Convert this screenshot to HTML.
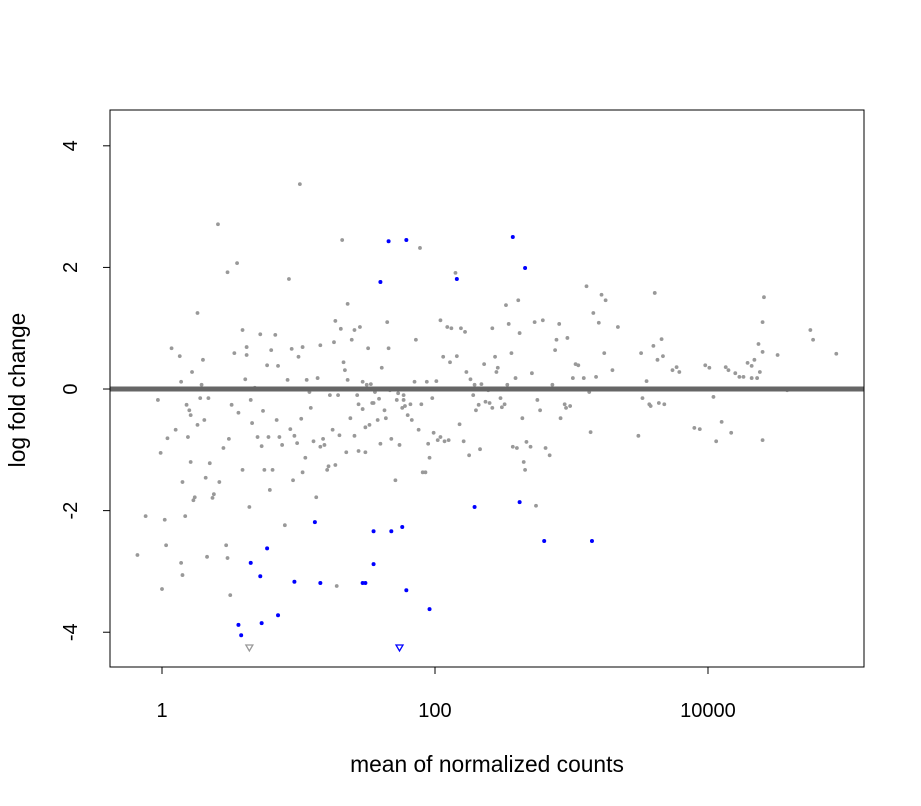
<!DOCTYPE html>
<html><head><meta charset="utf-8"><style>
html,body{margin:0;padding:0;background:#fff;}
svg{display:block;font-family:"Liberation Sans",sans-serif;}
</style></head><body>
<svg id="chart" width="921" height="806" viewBox="0 0 921 806" xmlns="http://www.w3.org/2000/svg"></svg>
<script>
// Data (x stored as log10 of mean normalized counts)
const grayLogMean = [-0.18,-0.12,-0.03,-0.01,0.00,0.02,0.03,0.04,0.07,0.10,0.13,0.14,0.14,0.15,0.15,0.17,0.18,0.19,0.20,0.21,0.21,0.22,0.23,0.24,0.26,0.26,0.28,0.29,0.30,0.31,0.32,0.33,0.34,0.35,0.37,0.38,0.41,0.42,0.45,0.47,0.48,0.48,0.49,0.50,0.51,0.53,0.55,0.56,0.59,0.59,0.61,0.62,0.62,0.64,0.65,0.66,0.68,0.70,0.72,0.73,0.74,0.75,0.77,0.78,0.79,0.80,0.81,0.83,0.84,0.85,0.86,0.88,0.90,0.92,0.93,0.94,0.95,0.96,0.97,0.99,1.00,1.01,1.02,1.03,1.03,1.05,1.06,1.08,1.09,1.11,1.13,1.14,1.16,1.16,1.18,1.19,1.21,1.22,1.23,1.25,1.26,1.27,1.27,1.28,1.29,1.30,1.31,1.32,1.33,1.34,1.35,1.36,1.36,1.38,1.39,1.41,1.41,1.43,1.44,1.44,1.45,1.47,1.47,1.49,1.49,1.50,1.51,1.52,1.53,1.54,1.55,1.56,1.58,1.59,1.60,1.61,1.63,1.64,1.65,1.66,1.67,1.68,1.71,1.72,1.73,1.74,1.76,1.77,1.77,1.78,1.80,1.82,1.83,1.85,1.86,1.88,1.89,1.90,1.91,1.93,1.94,1.95,1.96,1.98,1.99,2.01,2.02,2.04,2.04,2.06,2.07,2.09,2.10,2.11,2.12,2.15,2.16,2.18,2.19,2.21,2.22,2.23,2.25,2.26,2.28,2.29,2.30,2.32,2.33,2.34,2.36,2.37,2.39,2.40,2.42,2.42,2.44,2.45,2.46,2.48,2.49,2.51,2.52,2.53,2.54,2.56,2.57,2.59,2.60,2.61,2.62,2.64,2.65,2.66,2.67,2.70,2.71,2.73,2.74,2.75,2.77,2.79,2.81,2.84,2.86,2.88,2.89,2.91,2.92,2.95,2.96,2.97,2.99,3.01,3.03,3.05,3.09,3.11,3.13,3.14,3.16,3.18,3.20,3.22,3.24,3.25,3.30,3.34,3.49,3.51,3.52,3.55,3.57,3.58,3.60,3.61,3.63,3.64,3.66,3.67,3.68,3.74,3.77,3.79,3.90,3.94,3.98,4.01,4.04,4.06,4.10,4.13,4.15,4.17,4.20,4.23,4.26,4.29,4.32,4.32,4.34,4.36,4.37,4.38,4.40,4.40,4.40,4.41,4.51,4.58,4.75,4.77,4.94];
const grayLfc = [-2.73,-2.09,-0.18,-1.05,-3.29,-2.15,-2.57,-0.81,0.67,-0.67,0.54,0.12,-2.86,-3.06,-1.53,-2.09,-0.26,-0.79,-0.35,-1.20,-0.43,0.28,-1.83,-1.78,1.25,-0.59,-0.15,0.07,0.48,-0.51,-1.46,-2.76,-0.15,-1.22,-1.79,-1.73,2.71,-1.53,-0.97,-2.57,1.92,-2.78,-0.82,-3.39,-0.26,0.59,2.07,-0.39,0.97,-1.33,0.16,0.69,0.56,-1.94,-0.18,-0.56,0.02,-0.79,0.90,-0.94,-0.36,-1.33,0.39,-0.79,-1.66,0.64,-1.33,0.89,-0.51,0.38,-0.79,-0.92,-2.24,0.15,1.81,-0.66,0.66,-1.50,-0.77,-0.89,0.53,3.37,-0.49,0.69,-1.37,-1.13,0.15,-0.05,-0.31,-0.86,-1.78,0.18,0.72,-0.95,-0.82,-0.92,-1.33,-1.27,-0.10,-0.67,0.77,-1.25,1.12,-3.24,-0.10,-0.76,0.99,2.45,0.44,0.31,-1.04,1.40,0.15,-0.48,0.81,0.97,-0.77,-0.10,-1.02,-0.25,1.02,0.12,-0.33,-1.04,-0.63,0.07,0.67,-0.59,0.08,-0.23,-0.23,-0.05,-0.51,-0.16,-0.90,0.35,-0.35,-0.48,1.10,0.67,-0.02,-0.82,-1.50,-0.18,-0.07,-0.92,-0.31,-0.18,-0.10,-0.28,-0.43,-0.25,-0.51,0.12,0.81,-0.67,2.32,-0.25,-1.37,-1.37,0.12,-0.90,-1.13,-0.15,-0.72,0.13,-0.84,1.13,-0.79,0.53,-0.86,1.02,-0.84,0.44,1.00,1.91,0.54,-0.58,1.00,-0.86,0.94,0.28,-1.09,0.16,-0.10,0.07,-0.35,-0.26,-0.99,0.08,0.41,-0.21,-0.02,-0.23,1.00,-0.31,0.53,0.28,0.35,-0.15,-0.30,-0.25,1.38,0.07,1.07,0.59,-0.95,0.18,-0.97,1.46,0.92,-0.48,-1.20,-1.33,-0.87,-0.95,0.26,1.10,-1.92,-0.18,-0.35,1.13,-0.97,-1.09,0.07,0.64,0.81,1.07,-0.48,-0.25,-0.31,0.84,-0.28,0.18,0.41,0.39,0.18,1.69,-0.05,-0.71,1.25,0.20,1.09,1.55,0.59,1.46,0.31,1.02,-0.77,0.59,-0.15,0.13,-0.25,-0.28,0.71,1.58,0.48,-0.23,0.82,0.54,-0.25,0.31,0.36,0.28,-0.64,-0.66,0.39,0.35,-0.13,-0.86,-0.54,0.36,0.31,-0.72,0.26,0.20,0.20,0.43,0.18,0.38,0.48,0.18,0.74,0.28,1.10,0.61,-0.84,1.51,0.56,-0.02,0.97,0.81,0.58];
const sigLogMean = [1.66,1.79,2.57,2.66,1.60,2.16,1.12,2.29,2.62,2.80,3.15,1.55,1.68,1.76,0.77,0.65,0.72,0.97,1.16,1.47,1.49,1.55,1.79,1.96,0.85,0.73,0.56,0.58];
const sigLfc = [2.43,2.45,2.50,1.99,1.76,1.81,-2.19,-1.94,-1.86,-2.50,-2.50,-2.34,-2.34,-2.27,-2.62,-2.86,-3.08,-3.17,-3.19,-3.19,-3.19,-2.88,-3.31,-3.62,-3.72,-3.85,-3.88,-4.05];
const outLogMean = [0.64,1.74];
const outSig = [false,true];
const xTickValues = [0,2,4];
const xTickLabels = ["1","100","10000"];
const yTickValues = [4,2,0,-2,-4];
const yTickLabels = ["4","2","0","-2","-4"];

const NS="http://www.w3.org/2000/svg";
const svg=document.getElementById('chart');
const L=110,R=864,T=110,B=667;
const xMin=-0.381,xMax=5.143,yMin=-4.572,yMax=4.589;
function sx(v){return L+(v-xMin)/(xMax-xMin)*(R-L);}
function sy(v){return B-(v-yMin)/(yMax-yMin)*(B-T);}
function el(tag,attrs,parent){const e=document.createElementNS(NS,tag);for(const k in attrs)e.setAttribute(k,attrs[k]);(parent||svg).appendChild(e);return e;}

const pts=el('g',{});


grayLogMean.forEach((v,i)=>{
  const c=el('circle',{cx:sx(v),cy:sy(grayLfc[i]),r:1.9,fill:'#999999'},pts);
  
  
});
sigLogMean.forEach((v,i)=>{
  const c=el('circle',{cx:sx(v),cy:sy(sigLfc[i]),r:2,fill:'#0000ff'},pts);
  
  
});
outLogMean.forEach((v,i)=>{
  const x=sx(v),y=B-19;
  const t=el('polygon',{points:`${x-3.5},${y-3} ${x+3.5},${y-3} ${x},${y+3}`,fill:'none',stroke:outSig[i]?'#0000ff':'#999999','stroke-width':1.3},pts);
  
  
});
const zl=el('line',{x1:L,x2:R,y1:sy(0),y2:sy(0),stroke:'#666666','stroke-width':5});


const box=el('rect',{x:L,y:T,width:R-L,height:B-T,fill:'none',stroke:'#000','stroke-width':1});



const xa=el('g',{});


xTickValues.forEach((v,i)=>{
  const x=sx(v);
  el('line',{x1:x,x2:x,y1:B,y2:B+7,stroke:'#000'},xa);
  const t=el('text',{x:x,y:717,'text-anchor':'middle','font-size':'20'},xa);
  t.textContent=xTickLabels[i];
  
  
});
el('line',{x1:sx(0),x2:sx(4),y1:B,y2:B,stroke:'#000'},xa);
const ya=el('g',{});


yTickValues.forEach((v,i)=>{
  const y=sy(v);
  el('line',{x1:L-7,x2:L,y1:y,y2:y,stroke:'#000'},ya);
  const t=el('text',{x:77,y:y,'text-anchor':'middle','font-size':'20',transform:`rotate(-90 77 ${y})`},ya);
  t.textContent=yTickLabels[i];
  
  
});
const xt=el('text',{x:487,y:772,'text-anchor':'middle','font-size':'22.8'});
xt.textContent='mean of normalized counts';


const yt=el('text',{x:25,y:390,'text-anchor':'middle','font-size':'22.8',transform:'rotate(-90 25 390)'});
yt.textContent='log fold change';


</script>
</body></html>
